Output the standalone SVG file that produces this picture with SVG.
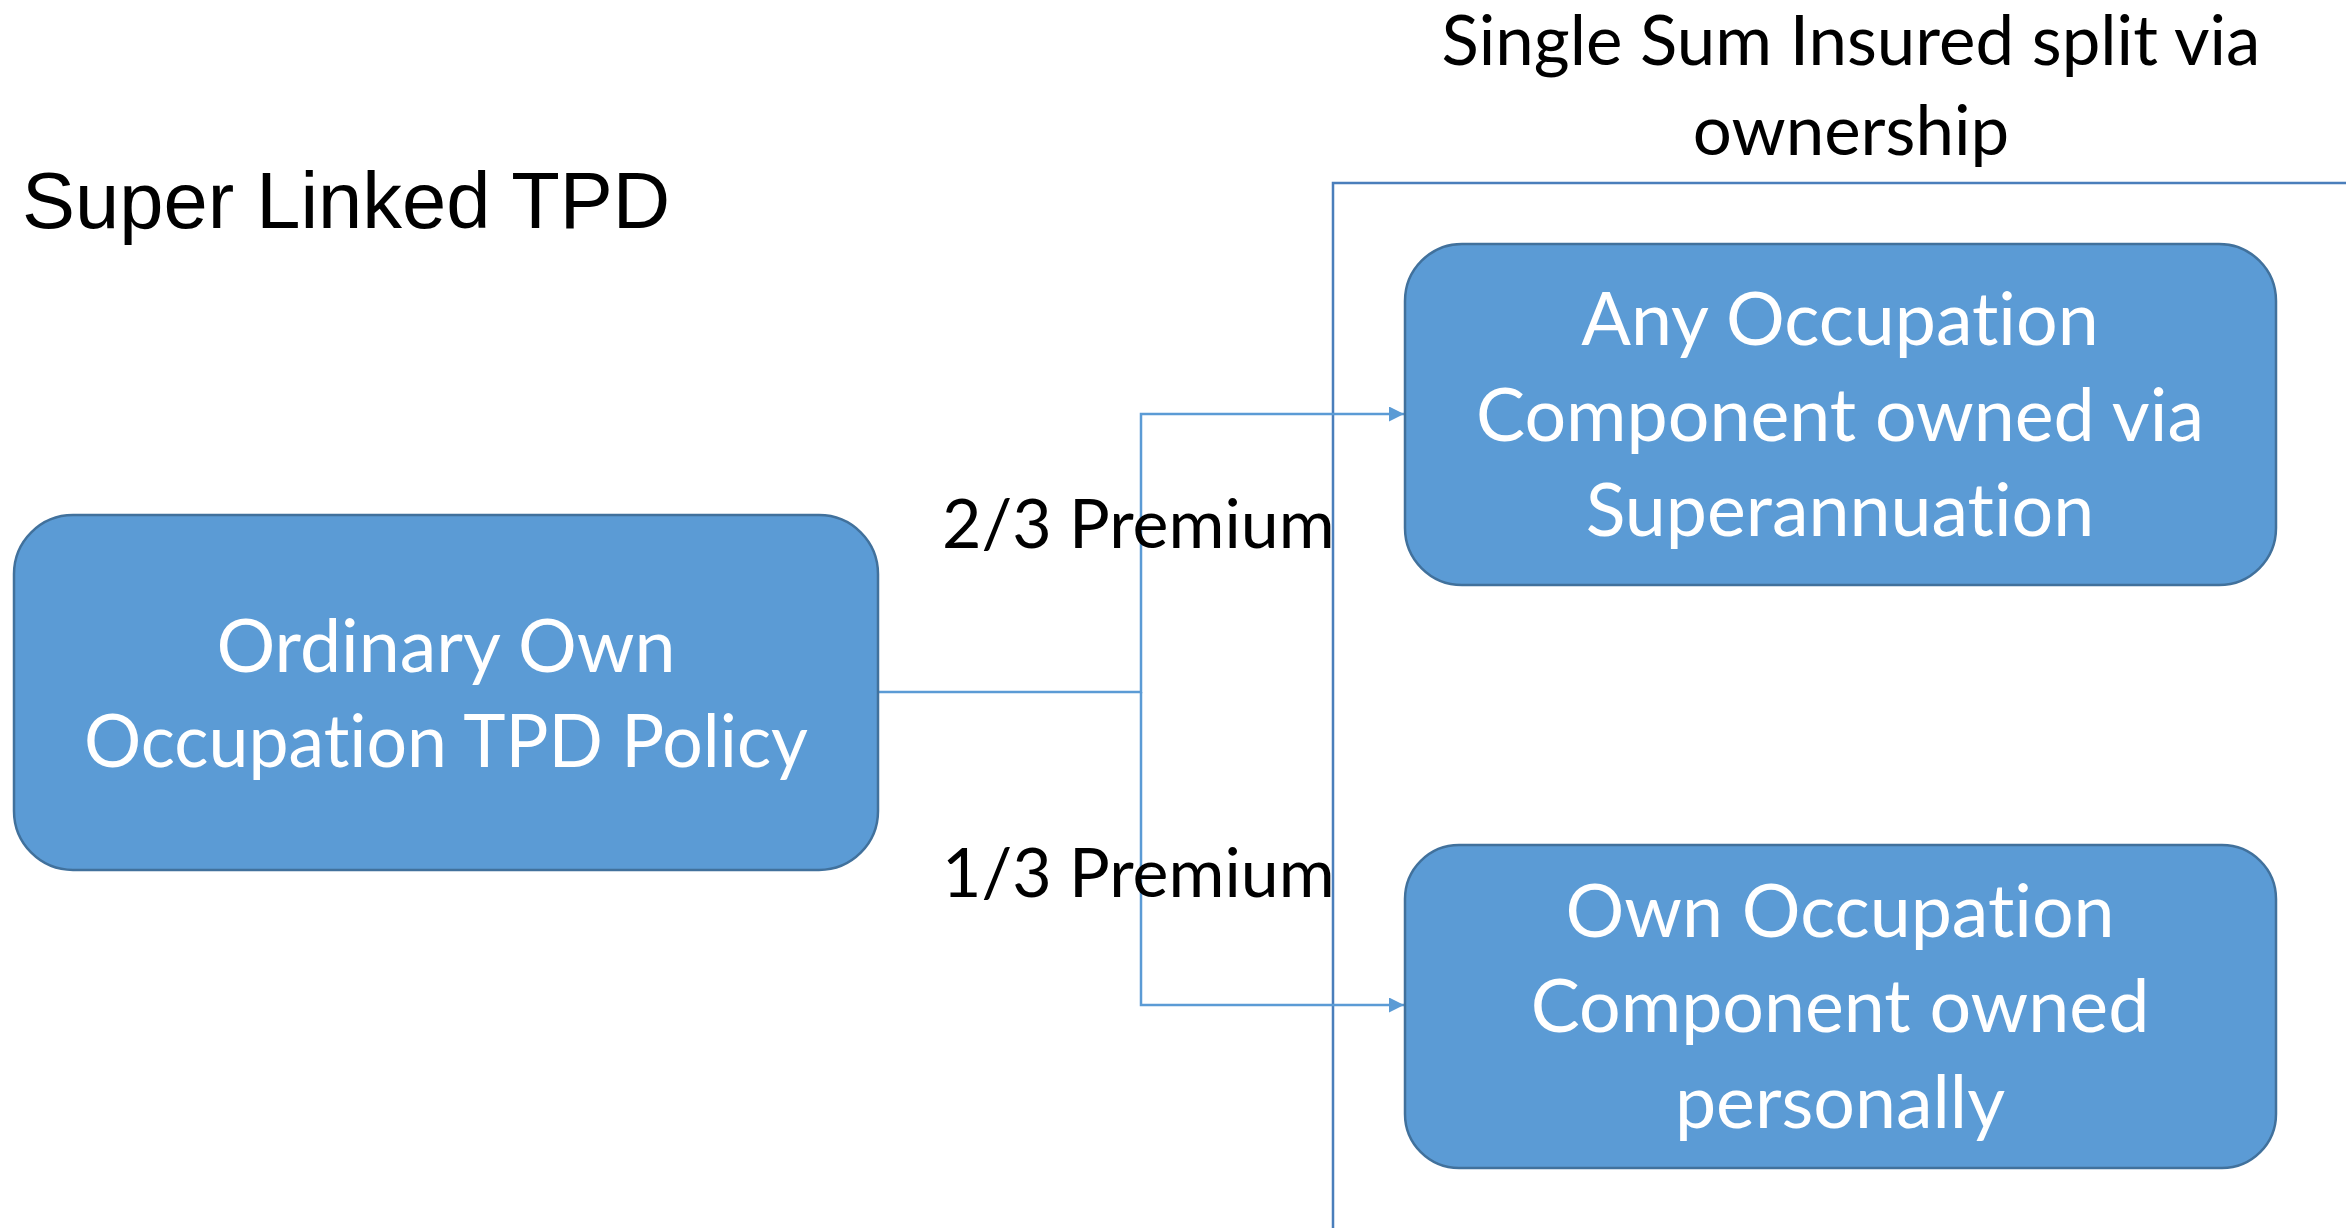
<svg xmlns="http://www.w3.org/2000/svg" width="2346" height="1228" viewBox="0 0 2346 1228">
  <style>
    text { font-variant-ligatures: none; font-feature-settings: "liga" 0; }
    .box { fill: #5B9BD5; stroke: #41719C; stroke-width: 2.5; }
    .boxtext { font-family: Lato, "Open Sans", sans-serif; font-size: 73.5px; fill: #FFFFFF; text-anchor: middle; }
    .label { font-family: Lato, "Open Sans", sans-serif; font-size: 68px; fill: #000000; }
    .caption { font-family: Lato, "Open Sans", sans-serif; font-size: 69px; fill: #000000; text-anchor: middle; }
    .heading { font-family: "Liberation Sans", Arial, sans-serif; font-size: 79.5px; fill: #000000; }
    .wire { fill: none; stroke: #5B9BD5; stroke-width: 2.5; }
    .frame { fill: none; stroke: #4A7EBB; stroke-width: 2.5; }
  </style>
  <defs>
    <marker id="arrow" markerUnits="userSpaceOnUse" markerWidth="16" markerHeight="16" refX="15" refY="7.5" orient="auto">
      <path d="M0,0 L15,7.5 L0,15 z" fill="#5B9BD5"/>
    </marker>
  </defs>
  <rect width="2346" height="1228" fill="#FFFFFF"/>

  <!-- page heading -->
  <text class="heading" x="22" y="228">Super Linked TPD</text>

  <!-- ownership frame and its caption -->
  <g id="ownership-frame">
    <rect class="frame" x="1333" y="183" width="1100" height="1100"/>
    <text class="caption" x="1851" y="65">Single Sum Insured split via</text>
    <text class="caption" x="1851" y="155">ownership</text>
  </g>

  <!-- premium split connectors -->
  <g id="connectors">
    <path class="wire" d="M878,692 H1141 V414 H1404" marker-end="url(#arrow)"/>
    <path class="wire" d="M1141,692 V1005 H1404" marker-end="url(#arrow)"/>
    <text class="label" x="942" y="548">2/3 Premium</text>
    <text class="label" x="942" y="897">1/3 Premium</text>
  </g>

  <g id="ordinary-policy">
    <rect class="box" x="14" y="515" width="864" height="355" rx="59" ry="59"/>
    <text class="boxtext" x="446" y="672">Ordinary Own</text>
    <text class="boxtext" x="446" y="767" textLength="724" lengthAdjust="spacingAndGlyphs">Occupation TPD Policy</text>
  </g>

  <g id="any-occupation">
    <rect class="box" x="1405" y="244" width="871" height="341" rx="57" ry="57"/>
    <text class="boxtext" x="1840" y="345">Any Occupation</text>
    <text class="boxtext" x="1840" y="441">Component owned via</text>
    <text class="boxtext" x="1840" y="536">Superannuation</text>
  </g>

  <g id="own-occupation">
    <rect class="box" x="1405" y="845" width="871" height="323" rx="54" ry="54"/>
    <text class="boxtext" x="1840" y="937">Own Occupation</text>
    <text class="boxtext" x="1840" y="1032">Component owned</text>
    <text class="boxtext" x="1840" y="1128">personally</text>
  </g>
</svg>
